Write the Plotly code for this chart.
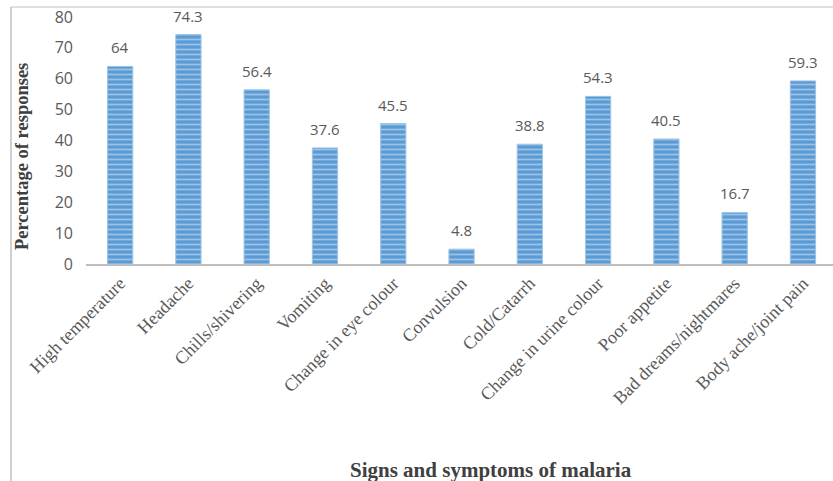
import plotly.graph_objects as go

symptoms = [
    "High temperature", "Headache", "Chills/shivering", "Vomiting",
    "Change in eye colour", "Convulsion", "Cold/Catarrh",
    "Change in urine colour", "Poor appetite", "Bad dreams/nightmares",
    "Body ache/joint pain",
]
percentages = [64, 74.3, 56.4, 37.6, 45.5, 4.8, 38.8, 54.3, 40.5, 16.7, 59.3]
value_labels = ["64", "74.3", "56.4", "37.6", "45.5", "4.8", "38.8", "54.3", "40.5", "16.7", "59.3"]
y_ticks = [0, 10, 20, 30, 40, 50, 60, 70, 80]

serif = "Liberation Serif, Times New Roman, serif"
sans = "Open Sans, Liberation Sans, sans-serif"

fig = go.Figure()
fig.add_trace(go.Bar(
    x=symptoms,
    y=percentages,
    width=0.37,
    marker=dict(
        color="#5B9BD5",
        line=dict(color="#9DC3E6", width=1),
        pattern=dict(shape="-", fillmode="overlay", fgcolor="#DEEBF7",
                     fgopacity=0.5, size=5, solidity=0.35),
    ),
    showlegend=False,
))

# value labels sitting above each bar
value_notes = [
    dict(x=cat, y=val, text=lbl, xref="x", yref="y",
         yanchor="bottom", yshift=7, showarrow=False,
         font=dict(family=sans, size=15, color="#595959"))
    for cat, val, lbl in zip(symptoms, percentages, value_labels)
]

fig.update_layout(
    width=833, height=481,
    margin=dict(l=86, r=0, t=17, b=217),
    paper_bgcolor="white", plot_bgcolor="white",
    xaxis=dict(
        range=[-0.5, 10.44],
        tickangle=-45,
        tickfont=dict(family=serif, size=18, color="#595959"),
        showline=True, linecolor="#BFBFBF", linewidth=1.5,
        showgrid=False, ticks="",
    ),
    yaxis=dict(
        range=[0, 80],
        tickvals=y_ticks,
        tickfont=dict(family=sans, size=16, color="#595959"),
        showgrid=False, zeroline=False, showline=False, ticks="",
        ticklabelstandoff=12,
    ),
    shapes=[
        # frame: top and left edges
        dict(type="line", xref="paper", yref="paper",
             x0=-0.1004, x1=1.05, y0=1.0405, y1=1.0405,
             line=dict(color="#BFBFBF", width=1.2)),
        dict(type="line", xref="paper", yref="paper",
             x0=-0.1004, x1=-0.1004, y0=1.0405, y1=-1.0,
             line=dict(color="#BFBFBF", width=1.5)),
    ],
    annotations=value_notes + [
        dict(text="<b>Percentage of responses</b>", textangle=-90,
             xref="paper", yref="paper", x=-0.0857, y=0.437,
             xanchor="center", yanchor="middle", showarrow=False,
             font=dict(family=serif, size=18.5, color="#404040")),
        dict(text="<b>Signs and symptoms of malaria</b>",
             xref="paper", yref="paper", x=(491 - 86) / 747, y=-(470 - 264) / 247,
             xanchor="center", yanchor="middle", showarrow=False,
             font=dict(family=serif, size=21, color="#404040")),
    ],
)

fig.write_html("out.html")
